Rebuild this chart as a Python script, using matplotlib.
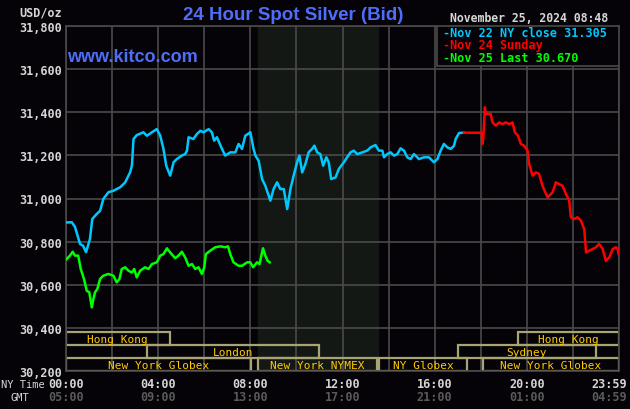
import matplotlib
matplotlib.use("Agg")
import matplotlib.pyplot as plt
from matplotlib.patches import Rectangle
import matplotlib.transforms as mtransforms

# ---- data (hours since NY midnight, price USD/oz) ----
nov22_hours = [0.03, 0.25, 0.39, 0.61, 0.74, 0.87, 1.04, 1.14, 1.33, 1.48, 1.62, 1.84, 2.06, 2.35,
               2.57, 2.78, 2.86, 2.93, 3.07, 3.36, 3.51, 3.73, 3.94, 4.09, 4.23, 4.35, 4.52, 4.67,
               4.81, 5.03, 5.17, 5.25, 5.32, 5.53, 5.68, 5.83, 5.97, 6.19, 6.33, 6.43, 6.55, 6.77,
               6.91, 7.13, 7.35, 7.49, 7.64, 7.78, 8.00, 8.14, 8.22, 8.36, 8.51, 8.65, 8.87, 9.01,
               9.16, 9.30, 9.45, 9.60, 9.74, 9.88, 10.03, 10.13, 10.25, 10.39, 10.53, 10.68, 10.78,
               10.90, 11.04, 11.16, 11.30, 11.40, 11.51, 11.70, 11.84, 12.06, 12.20, 12.35, 12.49,
               12.64, 12.86, 13.07, 13.22, 13.43, 13.58, 13.73, 13.80, 13.94, 14.09, 14.23, 14.38,
               14.52, 14.67, 14.81, 14.96, 15.10, 15.32, 15.53, 15.75, 15.97, 16.12, 16.26, 16.40,
               16.55, 16.70, 16.84, 16.91, 17.06, 17.27]
nov22_price = [30.889, 30.890, 30.868, 30.789, 30.781, 30.751, 30.812, 30.905, 30.928, 30.943,
               30.998, 31.029, 31.036, 31.052, 31.075, 31.121, 31.152, 31.276, 31.294, 31.307,
               31.291, 31.307, 31.322, 31.291, 31.230, 31.152, 31.106, 31.168, 31.183, 31.199,
               31.206, 31.222, 31.284, 31.276, 31.299, 31.314, 31.307, 31.322, 31.307, 31.268,
               31.284, 31.230, 31.199, 31.214, 31.214, 31.253, 31.230, 31.291, 31.307, 31.230,
               31.199, 31.175, 31.090, 31.059, 30.990, 31.044, 31.075, 31.044, 31.044, 30.951,
               31.044, 31.106, 31.168, 31.199, 31.121, 31.160, 31.214, 31.230, 31.245, 31.214,
               31.206, 31.152, 31.191, 31.168, 31.090, 31.098, 31.137, 31.168, 31.191, 31.214,
               31.222, 31.206, 31.214, 31.222, 31.237, 31.248, 31.222, 31.222, 31.191, 31.206,
               31.214, 31.199, 31.206, 31.233, 31.222, 31.191, 31.183, 31.206, 31.183, 31.191,
               31.191, 31.168, 31.183, 31.222, 31.253, 31.237, 31.230, 31.245, 31.276, 31.304,
               31.305]

nov24_hours = [17.27, 18.04, 18.07, 18.11, 18.18, 18.22, 18.43, 18.51, 18.65, 18.80, 18.94, 19.09,
               19.23, 19.38, 19.48, 19.62, 19.74, 19.88, 20.03, 20.10, 20.25, 20.39, 20.53, 20.68,
               20.90, 21.12, 21.26, 21.40, 21.55, 21.70, 21.84, 21.91, 22.06, 22.20, 22.35, 22.49,
               22.57, 22.71, 22.86, 23.00, 23.14, 23.29, 23.43, 23.58, 23.73, 23.87, 23.94, 23.98]
nov24_price = [31.305, 31.305, 31.253, 31.280, 31.423, 31.392, 31.392, 31.353, 31.338, 31.353,
               31.345, 31.353, 31.345, 31.353, 31.307, 31.291, 31.253, 31.245, 31.222, 31.160,
               31.106, 31.121, 31.114, 31.059, 31.005, 31.029, 31.075, 31.067, 31.059, 31.021,
               30.990, 30.913, 30.905, 30.913, 30.897, 30.858, 30.750, 30.758, 30.766, 30.774,
               30.789, 30.766, 30.711, 30.727, 30.766, 30.774, 30.766, 30.743]

nov25_hours = [0.03, 0.17, 0.29, 0.39, 0.53, 0.64, 0.78, 0.90, 1.01, 1.12, 1.19, 1.26, 1.36, 1.48,
               1.62, 1.84, 2.06, 2.20, 2.32, 2.42, 2.57, 2.71, 2.86, 2.96, 3.07, 3.22, 3.43, 3.58,
               3.73, 3.94, 4.09, 4.23, 4.38, 4.52, 4.74, 4.88, 5.03, 5.17, 5.32, 5.47, 5.61, 5.75,
               5.90, 6.00, 6.07, 6.26, 6.48, 6.70, 6.91, 7.03, 7.13, 7.27, 7.49, 7.64, 7.86, 8.00,
               8.12, 8.29, 8.40, 8.55, 8.65, 8.75, 8.84]
nov25_price = [30.719, 30.735, 30.753, 30.735, 30.735, 30.673, 30.627, 30.572, 30.565, 30.495,
               30.534, 30.565, 30.580, 30.627, 30.642, 30.650, 30.642, 30.611, 30.627, 30.673,
               30.681, 30.665, 30.657, 30.673, 30.634, 30.665, 30.681, 30.673, 30.696, 30.704,
               30.735, 30.742, 30.769, 30.750, 30.723, 30.735, 30.753, 30.727, 30.688, 30.696,
               30.673, 30.681, 30.650, 30.681, 30.742, 30.758, 30.774, 30.778, 30.774, 30.778,
               30.742, 30.704, 30.688, 30.688, 30.704, 30.704, 30.681, 30.704, 30.696, 30.769,
               30.735, 30.711, 30.704]

legend_labels = ["Nov 22 NY close 31.305", "Nov 24 Sunday", "Nov 25 Last 30.670"]

y_ticks = [30.2, 30.4, 30.6, 30.8, 31.0, 31.2, 31.4, 31.6, 31.8]
x_tick_hours = [0, 4, 8, 12, 16, 20, 23.57]
ny_labels = ["00:00", "04:00", "08:00", "12:00", "16:00", "20:00", "23:59"]
gmt_labels = ["05:00", "09:00", "13:00", "17:00", "21:00", "01:00", "04:59"]

# name, start hour, end hour, row (0 = bottom)
sessions = [
    ("Hong Kong", 0.0, 4.5, 2),
    ("London", 3.5, 11.0, 1),
    ("New York Globex", 0.0, 8.05, 0),
    ("New York NYMEX", 8.35, 13.5, 0),
    ("NY Globex", 13.6, 17.4, 0),
    ("New York Globex", 18.1, 24.0, 0),
    ("Sydney", 17.0, 23.0, 1),
    ("Hong Kong", 19.6, 24.0, 2),
]

nymex_shade = (8.35, 13.55)

BG = "#050308"
GRID = "#4a4a4a"
CYAN = "#00c8ff"
RED = "#ff0000"
GREEN = "#00ff00"
BLUE = "#4f6ef7"
BAR_EDGE = "#a8a474"
BAR_TEXT = "#ffcc00"
LABEL = "#d6d6d6"
MONO = "DejaVu Sans Mono"

fig = plt.figure(figsize=(6.3, 4.1), dpi=100, facecolor=BG)
ax = fig.add_axes([66 / 630, 38 / 410, 553 / 630, 345 / 410], facecolor=BG)

ax.set_xlim(0, 24)
ax.set_ylim(30.2, 31.8)
ax.set_xticks(range(0, 25, 2))
ax.set_yticks(y_ticks)
ax.set_xticklabels([])
ax.set_yticklabels([("%.3f" % v).replace(".", ",") for v in y_ticks],
                   family=MONO, fontweight="bold", fontsize=8.5, color=LABEL)
ax.tick_params(length=0, pad=3)
ax.grid(True, color=GRID, linewidth=1.2)
ax.set_axisbelow(True)
for s in ax.spines.values():
    s.set_color(GRID)
    s.set_linewidth(1.2)

ax.axvspan(*nymex_shade, color="#141814", zorder=0.2)

# session bars
row_h = 0.06
for name, start, end, row in sessions:
    y0 = 30.2 + row * row_h
    ax.add_patch(Rectangle((start, y0), end - start, row_h, fill=False,
                           edgecolor=BAR_EDGE, linewidth=1.6, zorder=2))
    ax.text((start + end) / 2, y0 + row_h / 2, name, ha="center", va="center",
            family=MONO, fontsize=8, color=BAR_TEXT, zorder=3)

ax.plot(nov22_hours, nov22_price, color=CYAN, linewidth=1.8, zorder=4)
ax.plot(nov24_hours, nov24_price, color=RED, linewidth=1.8, zorder=4)
ax.plot(nov25_hours, nov25_price, color=GREEN, linewidth=1.8, zorder=4)

# legend box in the top right corner
ax.add_patch(Rectangle((16.09, 31.614), 24 - 16.09, 0.186, facecolor=BG,
                       edgecolor=GRID, linewidth=1.2, zorder=5))
for i, (lab, col) in enumerate(zip(legend_labels, [CYAN, RED, GREEN])):
    ax.text(16.35, 31.768 - i * 0.056, "-" + lab, ha="left", va="center",
            family=MONO, fontweight="bold", fontsize=8.5, color=col, zorder=6)

# x labels: NY time and GMT
trans = mtransforms.blended_transform_factory(ax.transData, fig.transFigure)
for h, ny, gmt in zip(x_tick_hours, ny_labels, gmt_labels):
    ax.text(h, 1 - 385 / 410, ny, transform=trans, ha="center", va="center",
            family=MONO, fontweight="bold", fontsize=8.5, color=LABEL)
    ax.text(h, 1 - 398 / 410, gmt, transform=trans, ha="center", va="center",
            family=MONO, fontweight="bold", fontsize=8.5, color="#5a5a5a")
fig.text(45 / 630, 1 - 385 / 410, "NY Time", ha="right", va="center",
         family=MONO, fontsize=7.5, color=LABEL)
fig.text(29 / 630, 1 - 398 / 410, "GMT", ha="right", va="center",
         family=MONO, fontsize=7.5, color=LABEL)

fig.text(62 / 630, 1 - 13 / 410, "USD/oz", ha="right", va="center",
         family=MONO, fontweight="bold", fontsize=8.5, color=LABEL)
fig.text(293 / 630, 1 - 15 / 410, "24 Hour Spot Silver (Bid)", ha="center", va="center",
         family="Liberation Sans", fontweight="bold", fontsize=13.5, color=BLUE)
fig.text(608 / 630, 1 - 19 / 410, "November 25, 2024 08:48", ha="right", va="center",
         family=MONO, fontweight="bold", fontsize=8.3, color=LABEL)
ax.text(0.05, 31.66, "www.kitco.com", ha="left", va="center",
        family="Liberation Sans", fontweight="bold", fontsize=13, color=BLUE, zorder=6)

fig.savefig("out.png", dpi=100, facecolor=BG)
